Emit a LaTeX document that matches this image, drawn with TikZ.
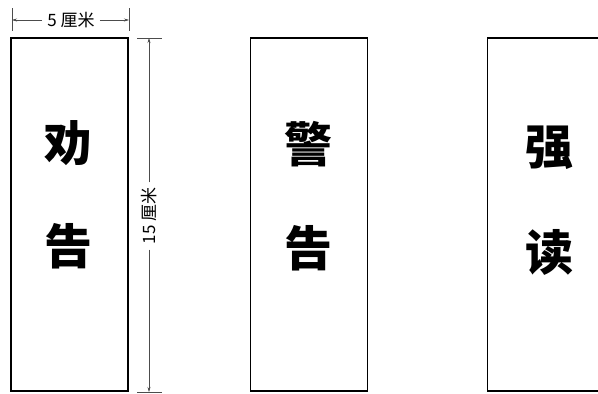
\documentclass[tikz,border=0pt]{standalone}
\usepackage{fontspec}
\newfontfamily\cjk{Noto Sans CJK SC}
\usepackage{tikz}
\usetikzlibrary{arrows.meta}

\tikzset{
  paper/.style={draw,line width=1.8pt,minimum width=117pt,minimum height=353pt,inner sep=0pt},
  zi/.style={font=\cjk\bfseries\fontsize{48}{48}\selectfont,inner sep=0pt},
  dim/.style={draw=black!70,line width=0.5pt},
  dimtext/.style={font=\cjk\fontsize{17}{17}\selectfont,inner sep=5pt}
}

\begin{document}
\begin{tikzpicture}[x=1pt,y=-1pt]
\useasboundingbox (0,0) rectangle (598,394);
\clip (0,0) rectangle (598,394);
% three strips of paper
\node[paper] (p1) at (69.5,214.5) {};
\node[paper] (p2) at (309,214.5) {};
\node[paper] (p3) at (546,214.5) {};
\node[zi] (c1) at (68,143) {劝};
\node[zi] (c2) at (68,246) {告};
\node[zi] (c3) at (308,144) {警};
\node[zi] (c4) at (308,248) {告};
\node[zi] (c5) at (549,148) {强};
\node[zi] (c6) at (549,252) {读};
% width
\draw[dim] (12,8) -- (12,31);
\draw[dim] (129,8) -- (129,31);
\coordinate (wl) at (12,20);
\coordinate (wr) at (129,20);
\node[dimtext] (w) at (71,20) {5 厘米};
\draw[dim,-{Stealth[length=5pt,width=3pt]}] (w.west) -- (wl);
\draw[dim,-{Stealth[length=5pt,width=3pt]}] (w.east) -- (wr);
% height
\draw[dim] (137,38) -- (162,38);
\draw[dim] (137,392) -- (162,392);
\coordinate (ht) at (149,38);
\coordinate (hb) at (149,392);
\node[dimtext,rotate=90] (h) at (149,216) {15 厘米};
\draw[dim,-{Stealth[length=5pt,width=3pt]}] (h.east) -- (ht);
\draw[dim,-{Stealth[length=5pt,width=3pt]}] (h.west) -- (hb);
\end{tikzpicture}
\end{document}
